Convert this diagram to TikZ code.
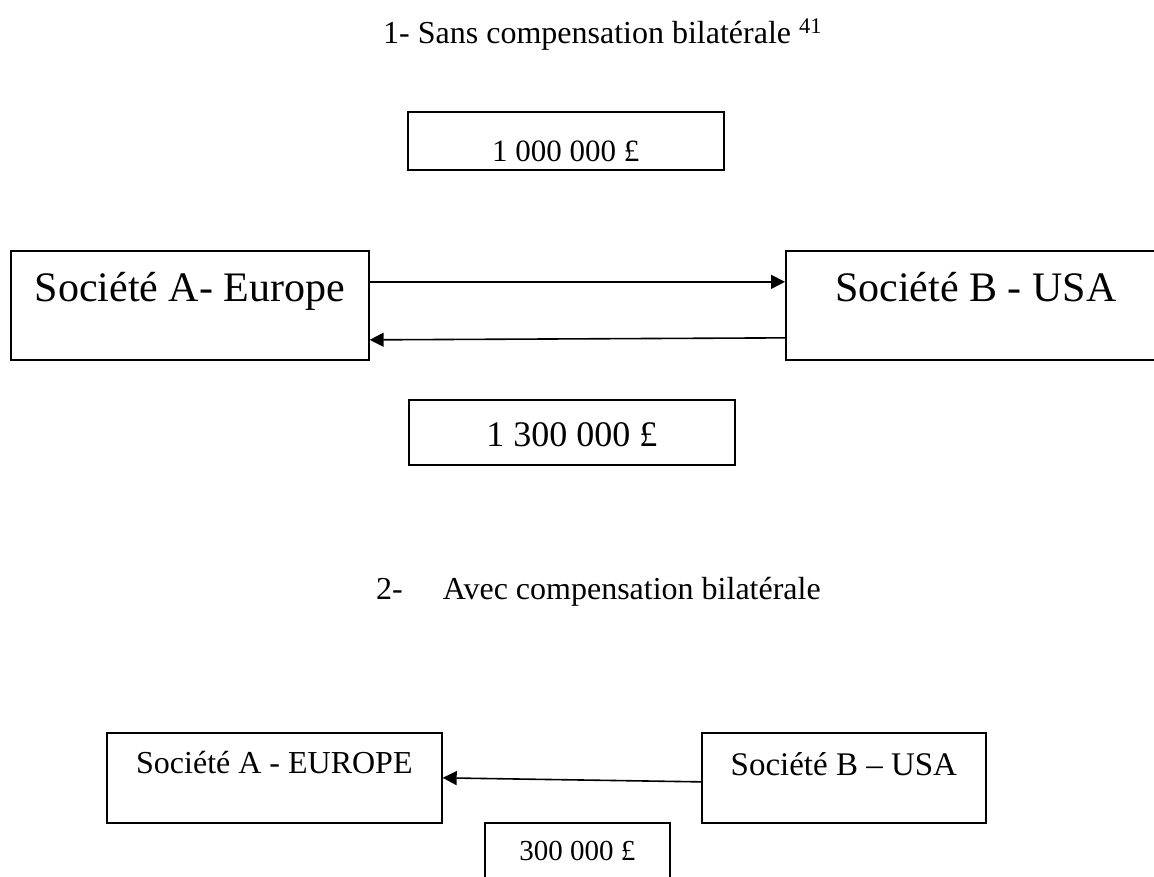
\documentclass[tikz,border=0pt]{standalone}
\usepackage{fontspec}
\setmainfont{Liberation Serif}
\usetikzlibrary{arrows.meta}

\begin{document}
\begin{tikzpicture}[x=1pt,y=-1pt,
  boite/.style={draw,line width=1.7pt,inner sep=0pt,anchor=north west},
  titre/.style={anchor=base west,inner sep=0pt,font=\fontsize{32}{38}\selectfont},
  fleche/.style={line width=1.6pt,-{Triangle[length=14pt,width=14pt]}}]
  \useasboundingbox (0,0) rectangle (1154,876);

  % titres
  \node[titre] (titre1) at (383,43) {1- Sans compensation bilatérale \textsuperscript{41}};
  \node[titre] (titre2) at (376,599) {2-\hspace{40pt}Avec compensation bilatérale};

  % sans compensation
  \node[boite,minimum width=316pt,text height=50pt,text depth=8pt,
    font=\fontsize{31}{37}\selectfont] (m1) at (407,111) {1 000 000 £};
  \node[boite,minimum width=358pt,text height=51pt,text depth=58pt,
    font=\fontsize{42}{50}\selectfont] (A) at (10,250) {Société A- Europe};
  \node[boite,minimum width=380pt,text height=51pt,text depth=58pt,
    font=\fontsize{42}{50}\selectfont] (B) at (785,250) {Société B - USA};
  \node[boite,minimum width=326pt,text height=47pt,text depth=18pt,
    font=\fontsize{36}{43}\selectfont] (m2) at (408,399) {1 300 000 £};

  \draw[fleche] ([yshift=23.5pt]A.east) -- ([yshift=23.5pt]B.west);
  \draw[fleche] ([yshift=-32.5pt]B.west) -- ([yshift=-34.5pt]A.east);

  % avec compensation
  \node[boite,minimum width=335pt,text height=41pt,text depth=49pt,
    font=\fontsize{32}{38}\selectfont] (A2) at (106,732) {Société A - EUROPE};
  \node[boite,minimum width=284pt,text height=43pt,text depth=47pt,
    font=\fontsize{33}{40}\selectfont] (B2) at (701,732) {Société B – USA};
  \node[boite,minimum width=185pt,text height=38pt,text depth=30pt,
    font=\fontsize{29}{35}\selectfont] (m3) at (484,822) {300 000 £};

  \draw[fleche] ([yshift=-4pt]B2.west) -- (A2.east);
\end{tikzpicture}
\end{document}
